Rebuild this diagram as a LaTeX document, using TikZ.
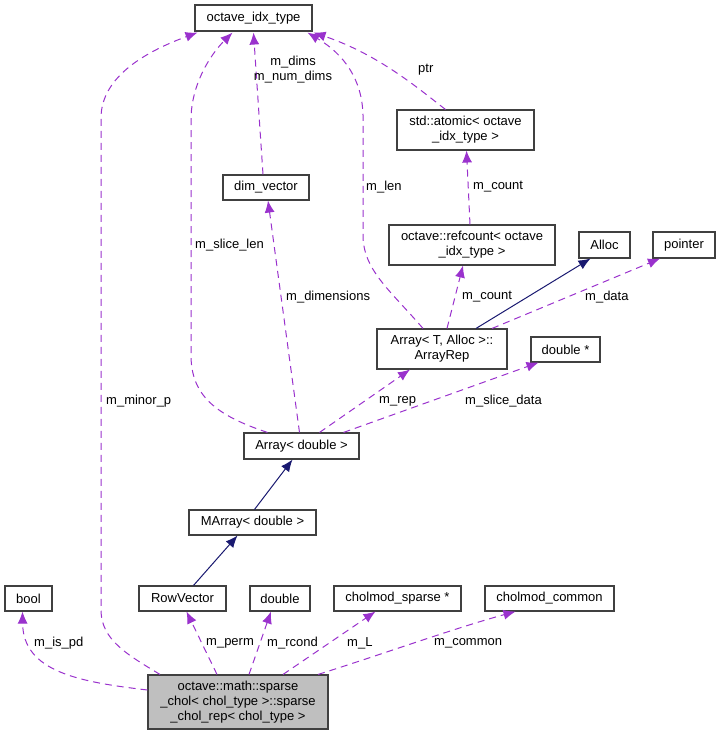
\documentclass[tikz,border=0pt]{standalone}
\usepackage{fontspec}
\setmainfont{Liberation Sans}
\usetikzlibrary{arrows.meta,calc}
\definecolor{edgepurple}{HTML}{9A32CD}
\definecolor{inhnavy}{HTML}{191970}
\definecolor{boxgray}{HTML}{404040}
\definecolor{mainfill}{HTML}{BFBFBF}
\begin{document}
\begin{tikzpicture}[x=1pt,y=-1pt,
  box/.style={draw=boxgray, line width=1.1pt, fill=white, inner sep=0pt, align=center, font=\fontsize{13}{15}\selectfont},
  mem/.style={draw=edgepurple, dash pattern=on 7pt off 5pt, line width=1pt, -{Latex[length=12pt,width=10pt,fill=edgepurple]}},
  inh/.style={draw=inhnavy, line width=1pt, -{Latex[length=12pt,width=10pt,fill=inhnavy]}},
  lbl/.style={font=\fontsize{13}{15}\selectfont, inner sep=0pt, anchor=west, align=left}
]
\useasboundingbox (0,0) rectangle (721,736);

% nodes
\node[box, minimum width=117pt, minimum height=26pt] (idx) at (253.5,18) {octave\_idx\_type};
\node[box, minimum width=137pt, minimum height=40pt] (atomic) at (465.5,130) {std::atomic< octave\\\_idx\_type >};
\node[box, minimum width=86pt, minimum height=25pt] (dimv) at (266,187.5) {dim\_vector};
\node[box, minimum width=166pt, minimum height=40pt] (refc) at (472,245) {octave::refcount< octave\\\_idx\_type >};
\node[box, minimum width=51pt, minimum height=26pt] (alloc) at (604.5,245) {Alloc};
\node[box, minimum width=62pt, minimum height=26pt] (ptr) at (684,245) {pointer};
\node[box, minimum width=130pt, minimum height=40pt] (arep) at (442,349) {Array< T, Alloc >::\\ArrayRep};
\node[box, minimum width=69pt, minimum height=25pt] (dptr) at (565.5,349.5) {double *};
\node[box, minimum width=115pt, minimum height=26pt] (arrd) at (301.5,446) {Array< double >};
\node[box, minimum width=127pt, minimum height=25pt] (marr) at (252.5,522.5) {MArray< double >};
\node[box, minimum width=47pt, minimum height=25pt] (bool) at (28.5,598.5) {bool};
\node[box, minimum width=87pt, minimum height=25pt] (rowvec) at (182.5,598.5) {RowVector};
\node[box, minimum width=60pt, minimum height=25pt] (dbl) at (280,598.5) {double};
\node[box, minimum width=127pt, minimum height=25pt] (csparse) at (397.5,598.5) {cholmod\_sparse *};
\node[box, minimum width=129pt, minimum height=25pt] (ccommon) at (549.5,598.5) {cholmod\_common};
\node[box, fill=mainfill, minimum width=180pt, minimum height=54pt] (main) at (238,702) {octave::math::sparse\\\_chol< chol\_type >::sparse\\\_chol\_rep< chol\_type >};

% member edges
\draw[mem] ($(main.north)+(-78,0)$) .. controls (128,655) and (101,640) .. (101,610) -- (101,118) .. controls (101,75) and (150,50) .. ($(idx.south)+(-56,1)$);
\draw[mem] ($(arrd.north)+(-34,0)$) .. controls (215,415) and (191,395) .. (191,355) -- (191,120) .. controls (191,85) and (210,55) .. ($(idx.south)+(-21,1)$);
\draw[mem] ($(dimv.north)+(-3,0)$) -- ($(idx.south)+(0,1)$);
\draw[mem] ($(arep.north)+(-19,0)$) .. controls (390,290) and (363,270) .. (363,235) -- (363,115) .. controls (362,80) and (345,55) .. ($(idx.south)+(54,1)$);
\draw[mem] ($(atomic.north)+(-20,0)$) .. controls (420,90) and (380,55) .. ($(idx.south east)+(1,1)$);
\draw[mem] ($(refc.north)+(-2,0)$) -- ($(atomic.south)+(1,0)$);
\draw[mem] ($(arep.north)+(5,0)$) -- ($(refc.south)+(-9,0)$);
\draw[inh] ($(arep.north)+(34,0)$) -- ($(alloc.south)+(-14,0)$);
\draw[mem] ($(arep.north)+(50,0)$) -- ($(ptr.south)+(-24,0)$);
\draw[mem] ($(arrd.north)+(18,0)$) -- ($(arep.south)+(-32,0)$);
\draw[mem] ($(arrd.north)+(42,0)$) -- ($(dptr.south)+(-27,0)$);
\draw[mem] ($(arrd.north)+(-2,0)$) -- ($(dimv.south)+(2,0)$);
\draw[inh] ($(marr.north)+(2,0)$) -- ($(arrd.south)+(-9,0)$);
\draw[inh] ($(rowvec.north)+(11,0)$) -- ($(marr.south)+(-15,0)$);
\draw[mem] ($(main.west)+(0,-12)$) .. controls (80,682) and (23,672) .. ($(bool.south)+(-6,0)$);
\draw[mem] ($(main.north)+(-21,0)$) -- ($(rowvec.south)+(4,0)$);
\draw[mem] ($(main.north)+(11,0)$) -- ($(dbl.south)+(-9,0)$);
\draw[mem] ($(main.north)+(45,0)$) -- ($(csparse.south)+(-22,0)$);
\draw[mem] ($(main.north)+(80,0)$) .. controls (380,655) and (455,628) .. ($(ccommon.south)+(-34,0)$);

% labels
\node[lbl, anchor=center, align=center] (l1) at (293,70) {m\_dims\\m\_num\_dims};
\node[lbl] (l2) at (195,245) {m\_slice\_len};
\node[lbl] (l3) at (106,401) {m\_minor\_p};
\node[lbl] (l4) at (286,297) {m\_dimensions};
\node[lbl] (l5) at (366,187) {m\_len};
\node[lbl] (l6) at (418,70) {ptr};
\node[lbl] (l7) at (473,187) {m\_count};
\node[lbl] (l8) at (462,297) {m\_count};
\node[lbl] (l9) at (585,297) {m\_data};
\node[lbl] (l10) at (379,401) {m\_rep};
\node[lbl] (l11) at (465,401) {m\_slice\_data};
\node[lbl] (l12) at (34,643) {m\_is\_pd};
\node[lbl] (l13) at (206,643) {m\_perm};
\node[lbl] (l14) at (267,643) {m\_rcond};
\node[lbl] (l15) at (347,643) {m\_L};
\node[lbl] (l16) at (434,643) {m\_common};
\end{tikzpicture}
\end{document}
